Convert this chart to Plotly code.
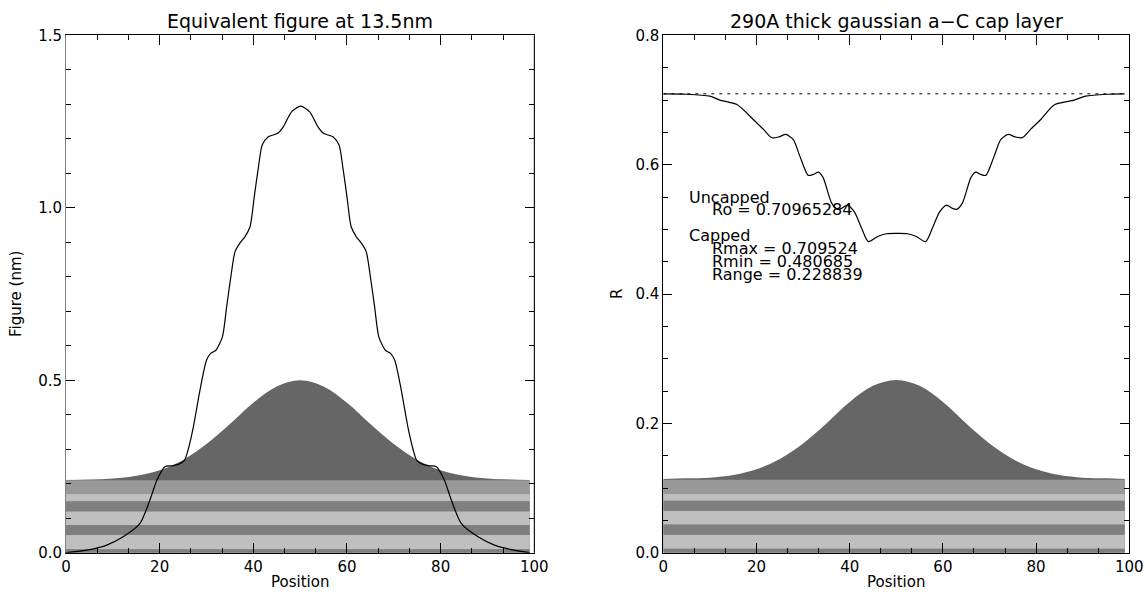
import plotly.graph_objects as go

# ---------------- data ----------------
# Left panel: equivalent figure curve (nm) vs position
fig_x = [0, 5.1, 8.7, 12.2, 15.8, 17.9, 19.4, 21.1, 22.5, 24.0, 25.3, 26.1, 27.2, 28.6, 30.0,
         30.9, 32.0, 33.4, 34.3, 35.2, 36.1, 37.2, 38.2, 39.3, 40.2, 41.1, 41.9, 43.2, 45.2,
         46.4, 48.2, 50.1, 52.0, 53.8, 55.0, 57.0, 58.3, 59.1, 60.0, 60.9, 62.0, 63.0, 64.1,
         65.0, 65.9, 66.8, 68.2, 69.3, 70.2, 71.6, 73.0, 74.1, 74.9, 76.2, 77.7, 79.1, 80.8,
         82.3, 84.4, 88.0, 91.5, 95.1, 99.0]
fig_y = [0.000, 0.009, 0.022, 0.046, 0.085, 0.152, 0.210, 0.249, 0.252, 0.256, 0.268, 0.300,
         0.365, 0.471, 0.558, 0.578, 0.587, 0.626, 0.713, 0.800, 0.873, 0.899, 0.916, 0.945,
         1.032, 1.119, 1.182, 1.206, 1.216, 1.235, 1.279, 1.295, 1.279, 1.235, 1.216, 1.206,
         1.182, 1.119, 1.032, 0.945, 0.916, 0.899, 0.873, 0.800, 0.713, 0.626, 0.587, 0.578,
         0.558, 0.471, 0.365, 0.300, 0.268, 0.256, 0.252, 0.249, 0.210, 0.152, 0.085, 0.046,
         0.022, 0.009, 0.000]

# Gaussian cap profile (left panel units, nm)
cap_x = [0, 5, 10, 15, 20, 25, 30, 35, 40, 45, 50, 55, 60, 65, 70, 75, 80, 85, 90, 95, 99]
cap_left = [0.211, 0.212, 0.215, 0.223, 0.239, 0.269, 0.315, 0.373, 0.435, 0.482, 0.500,
            0.482, 0.435, 0.373, 0.315, 0.269, 0.239, 0.223, 0.215, 0.212, 0.211]
# Gaussian cap profile (right panel units, R)
cap_right = [0.114, 0.115, 0.116, 0.120, 0.129, 0.145, 0.169, 0.200, 0.233, 0.258, 0.267,
             0.258, 0.233, 0.200, 0.169, 0.145, 0.129, 0.120, 0.116, 0.115, 0.114]

# Multilayer stripes (boundaries, bottom -> top) and their greys
layer_left = [0.0, 0.010, 0.051, 0.080, 0.120, 0.149, 0.170, 0.210]
layer_right = [0.0, 0.006, 0.028, 0.0435, 0.065, 0.0805, 0.0915, 0.113]
layer_colors = ["#7f7f7f", "#bfbfbf", "#7f7f7f", "#bfbfbf", "#7f7f7f", "#bfbfbf", "#999999"]
layer_xext = [0, 99]

# Right panel: reflectance curve
r_x = [0, 5.0, 10.0, 12.1, 15.8, 19.3, 21.5, 23.3, 24.8, 26.3, 27.9, 29.3, 31.1, 32.2, 33.3,
       34.3, 36.1, 37.3, 38.4, 39.5, 41.0, 42.5, 44.0, 46.0, 47.9, 50.1, 52.4, 54.3, 56.3,
       57.8, 59.3, 60.8, 61.9, 63.0, 64.2, 66.0, 67.0, 68.1, 69.2, 71.0, 72.4, 74.0, 75.5,
       77.0, 78.8, 81.0, 84.0, 88.2, 90.6, 95.3, 99.0]
r_y = [0.7095, 0.709, 0.706, 0.700, 0.693, 0.670, 0.6546, 0.6417, 0.643, 0.6468, 0.639,
       0.6133, 0.5835, 0.585, 0.5886, 0.580, 0.541, 0.531, 0.533, 0.5376, 0.527, 0.503,
       0.481, 0.489, 0.4933, 0.4938, 0.4933, 0.489, 0.481, 0.503, 0.527, 0.5376, 0.533,
       0.531, 0.541, 0.580, 0.5886, 0.585, 0.5835, 0.6133, 0.639, 0.6468, 0.643, 0.6417,
       0.6546, 0.670, 0.693, 0.700, 0.706, 0.709, 0.7095]
r0 = 0.70965284

notes = [("Uncapped", 5, 0.54), ("Ro = 0.70965284", 10, 0.52), ("Capped", 5, 0.48),
         ("Rmax = 0.709524", 10, 0.46), ("Rmin = 0.480685", 10, 0.44),
         ("Range = 0.228839", 10, 0.42)]

x_ticks = [0, 20, 40, 60, 80, 100]
yl_ticks = [0.0, 0.5, 1.0, 1.5]
yr_ticks = [0.0, 0.2, 0.4, 0.6, 0.8]

FONT = "DejaVu Sans"

# ---------------- figure ----------------
fig = go.Figure()


def add_panel(xa, ya, cap, layers):
    fig.add_trace(go.Scatter(x=cap_x, y=cap, xaxis=xa, yaxis=ya, mode="lines",
                             line=dict(width=0, shape="spline"), fill="tozeroy",
                             fillcolor="#666666", hoverinfo="skip", showlegend=False))
    for i, col in enumerate(layer_colors):
        y0, y1 = layers[i], layers[i + 1]
        fig.add_trace(go.Scatter(
            x=[layer_xext[0], layer_xext[1], layer_xext[1], layer_xext[0], layer_xext[0]],
            y=[y0, y0, y1, y1, y0], xaxis=xa, yaxis=ya, mode="lines",
            line=dict(width=0), fill="toself", fillcolor=col,
            hoverinfo="skip", showlegend=False))


add_panel("x", "y", cap_left, layer_left)
add_panel("x2", "y2", cap_right, layer_right)

fig.add_trace(go.Scatter(x=fig_x, y=fig_y, xaxis="x", yaxis="y", mode="lines",
                         line=dict(color="black", width=1.2, shape="spline", smoothing=0.7),
                         showlegend=False))
fig.add_trace(go.Scatter(x=[layer_xext[0], layer_xext[1]], y=[r0, r0], xaxis="x2", yaxis="y2",
                         mode="lines", line=dict(color="black", width=1, dash="3px,5px"),
                         showlegend=False))
fig.add_trace(go.Scatter(x=r_x, y=r_y, xaxis="x2", yaxis="y2", mode="lines",
                         line=dict(color="black", width=1.2, shape="spline", smoothing=0.7),
                         showlegend=False))

W, H = 1145, 592
yd = [(H - 552.7) / H, (H - 35.4) / H]
xd1 = [66 / W, 534.3 / W]
xd2 = [663.3 / W, 1129.3 / W]

tickfont = dict(family=FONT, size=15, color="black")


def xaxis(domain, anchor):
    return dict(domain=domain, anchor=anchor, range=[0, 100], tickvals=x_ticks,
                ticks="inside", ticklen=10, tickcolor="black", mirror="ticks",
                showline=True, linecolor="black", linewidth=1, showgrid=False,
                zeroline=False, tickfont=tickfont, automargin=False,
                minor=dict(ticks="inside", ticklen=5, dtick=20 / 3, tick0=0,
                           tickcolor="black", showgrid=False))


def yaxis(anchor, rng, vals, mdt, lc):
    return dict(domain=yd, anchor=anchor, range=rng, tickvals=vals, tickformat=".1f",
                ticks="inside", ticklen=9, tickcolor="black", mirror="ticks",
                showline=True, linecolor=lc, linewidth=1, showgrid=False,
                zeroline=False, tickfont=tickfont, automargin=False,
                minor=dict(ticks="inside", ticklen=5, dtick=mdt, tick0=0,
                           tickcolor="black", showgrid=False))


def pann(text, x, y, size, angle=0):
    return dict(text=text, x=x / W, y=(H - y) / H, xref="paper", yref="paper",
                xanchor="center", yanchor="middle", showarrow=False, textangle=angle,
                font=dict(family=FONT, size=size, color="black"))


ann = [
    pann("Equivalent figure at 13.5nm", (xd1[0] + xd1[1]) * W / 2, 21, 19),
    pann("290A thick gaussian a\u2212C cap layer", (xd2[0] + xd2[1]) * W / 2, 21, 19),
    pann("Position", (xd1[0] + xd1[1]) * W / 2, 582, 15),
    pann("Position", (xd2[0] + xd2[1]) * W / 2, 582, 15),
    pann("Figure (nm)", 16, 294, 15, -90),
    pann("R", 617, 294, 15, -90),
]
for txt, xx, yy in notes:
    ann.append(dict(text=txt, x=xx, y=yy, xref="x2", yref="y2", xanchor="left",
                    yanchor="bottom", yshift=-5, showarrow=False,
                    font=dict(family=FONT, size=16, color="black")))

fig.update_layout(
    width=W, height=H, margin=dict(l=0, r=0, t=0, b=0, autoexpand=False),
    paper_bgcolor="white", plot_bgcolor="white",
    font=dict(family=FONT, color="black"),
    xaxis=xaxis(xd1, "y"), yaxis=yaxis("x", [0, 1.5], yl_ticks, 0.1, "#808080"),
    xaxis2=xaxis(xd2, "y2"), yaxis2=yaxis("x2", [0, 0.8], yr_ticks, 0.05, "black"),
    annotations=ann,
    shapes=[dict(type="line", xref="x domain", yref="y domain", x0=1, x1=1, y0=0, y1=1,
                 line=dict(color="black", width=1), layer="above")],
)

fig.write_html("out.html", config={"displayModeBar": False},
               post_script="document.body.style.margin='0';"
                           "document.body.style.overflow='hidden';")
